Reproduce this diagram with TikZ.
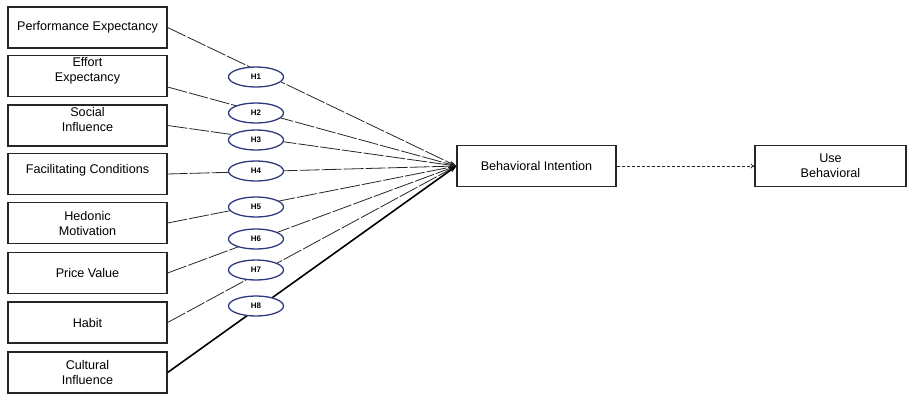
\documentclass[tikz,border=0pt]{standalone}
\usepackage{fontspec}
\setmainfont{Liberation Sans}
\usetikzlibrary{shapes.geometric,arrows.meta}

\begin{document}
\begin{tikzpicture}[x=1pt,y=-1pt,
  factor/.style={draw=black!85,line width=1.2,minimum width=159,minimum height=41,inner sep=0,align=center,font=\fontsize{12.6}{15}\selectfont},
  hyp/.style={ellipse,draw={rgb,255:red,46;green,58;blue,128},line width=1.3,fill=white,minimum width=55,minimum height=20,inner sep=0,font=\fontsize{8}{9}\selectfont\bfseries},
  path/.style={draw=black!85,line width=0.8,dash pattern=on 20pt off 2pt,-{Stealth[length=7pt,width=5pt]}},
  strong/.style={draw=black,line width=1.6,-{Stealth[length=7pt,width=5pt]}}]
\useasboundingbox (0,0) rectangle (907,394);
\node[factor] (pe) at (87.5,27.5) {Performance Expectancy};
\node[factor,text depth=13] (ee) at (87.5,76) {Effort\\Expectancy};
\node[factor,text depth=13] (si) at (87.5,125.5) {Social\\Influence};
\node[factor,text depth=11] (fc) at (87.5,174) {Facilitating Conditions};
\node[factor] (hm) at (87.5,223) {Hedonic\\Motivation};
\node[factor] (pv) at (87.5,273) {Price Value};
\node[factor] (hb) at (87.5,322.5) {Habit};
\node[factor] (ci) at (87.5,372.5) {Cultural\\Influence};
\node[factor] (bi) at (536.5,166) {Behavioral Intention};
\node[factor,minimum width=151] (ub) at (830.5,166) {Use\\Behavioral};
\draw[path] (pe.east) -- (bi.west);
\draw[path] ([yshift=-11]ee.east) -- (bi.west);
\draw[path] (si.east) -- (bi.west);
\draw[path] (fc.east) -- (bi.west);
\draw[path] (hm.east) -- (bi.west);
\draw[path] (pv.east) -- (bi.west);
\draw[path] (hb.east) -- (bi.west);
\draw[strong] (ci.east) -- (bi.west);
\draw[black!85,line width=0.7,dash pattern=on 3pt off 2pt,-{To[length=4pt,width=5pt]}] (bi.east) -- (ub.west);
\node[hyp] (h1) at (256,77) {H1};
\node[hyp] (h2) at (256,113) {H2};
\node[hyp] (h3) at (256,140) {H3};
\node[hyp] (h4) at (256,171) {H4};
\node[hyp] (h5) at (256,207) {H5};
\node[hyp] (h6) at (256,239) {H6};
\node[hyp] (h7) at (256,270) {H7};
\node[hyp] (h8) at (256,306) {H8};
\end{tikzpicture}
\end{document}
